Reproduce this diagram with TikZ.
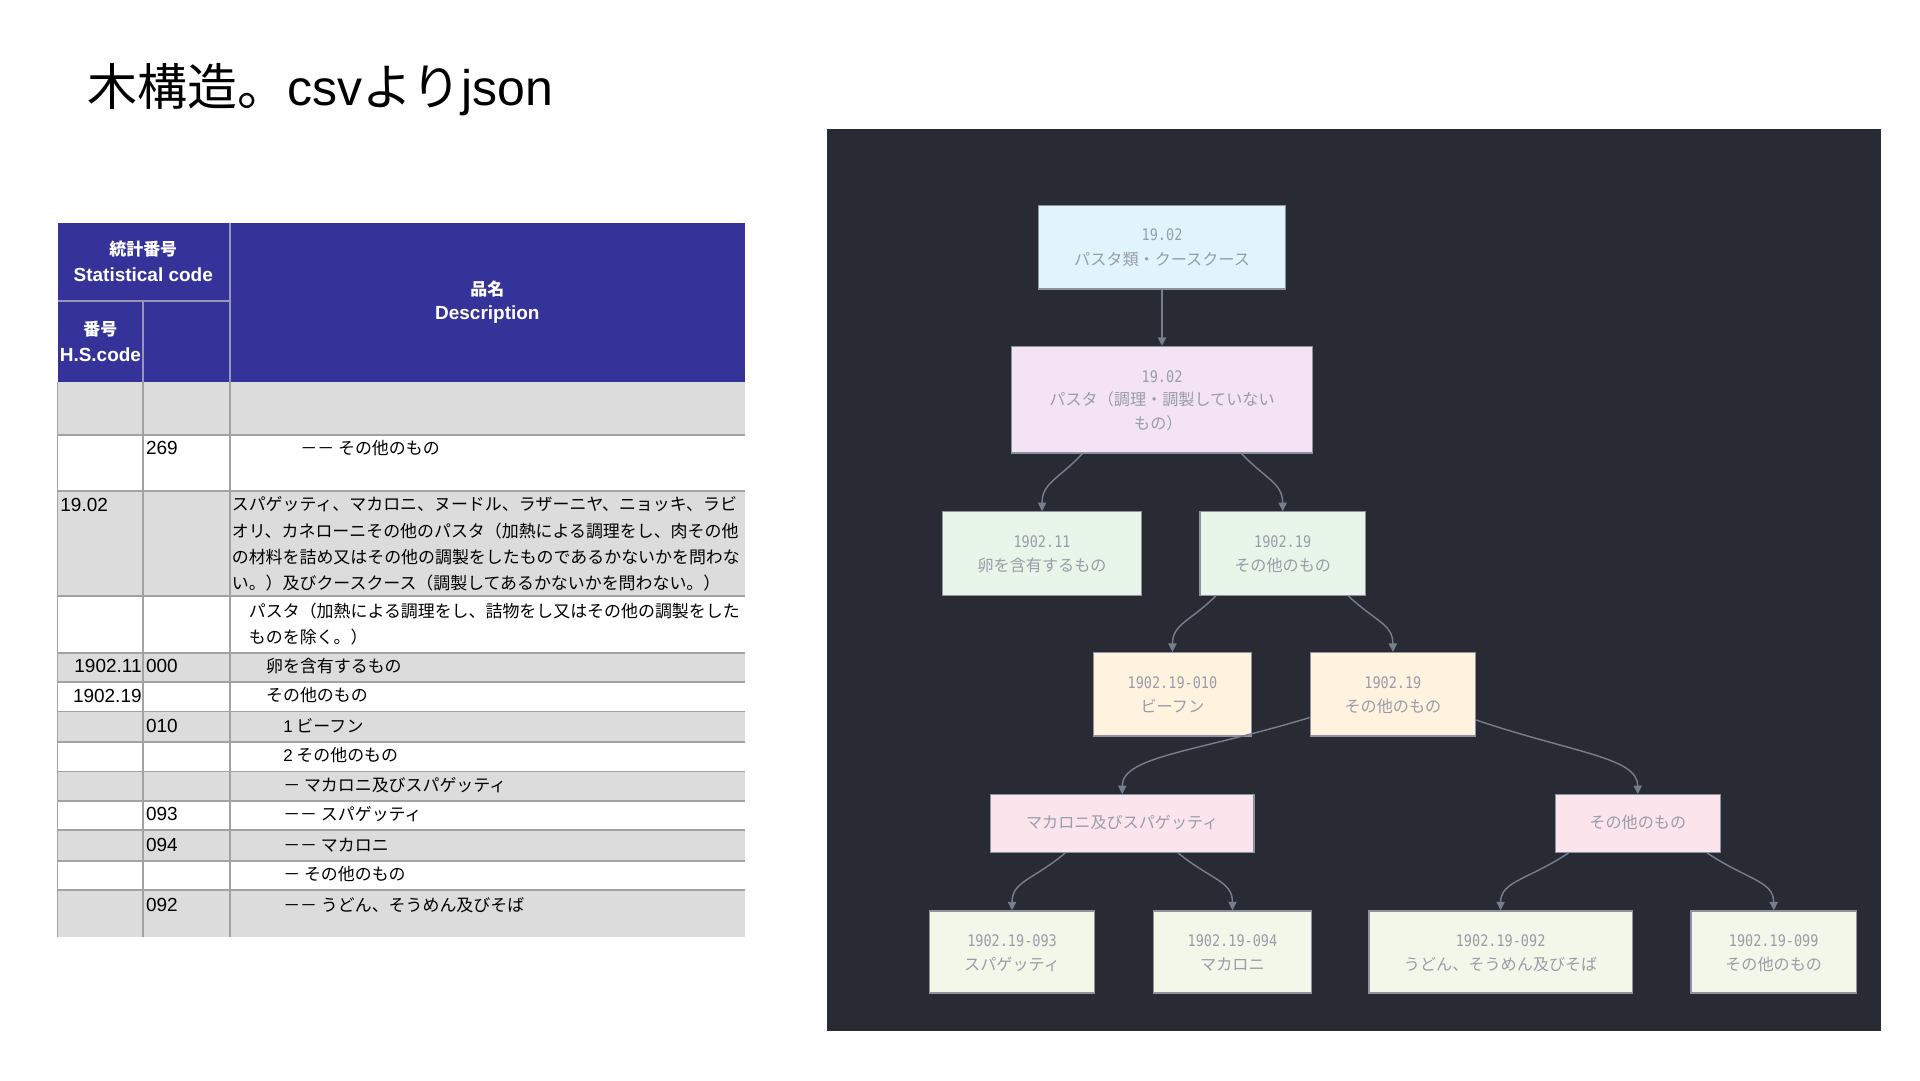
\documentclass[tikz,border=0pt]{standalone}
\usepackage{fontspec}
\usetikzlibrary{fit,arrows.meta,calc}
\newfontfamily\jp{Noto Sans CJK JP}
\newfontfamily\lib{Liberation Sans}
\newfontfamily\mono[FakeStretch=0.85]{DejaVu Sans Mono}
\definecolor{hdr}{RGB}{53,51,153}
\definecolor{tgray}{RGB}{220,220,220}
\definecolor{tline}{RGB}{162,162,162}
\definecolor{hline}{RGB}{150,150,185}
\definecolor{panel}{RGB}{40,43,52}
\definecolor{bordc}{RGB}{140,146,158}
\definecolor{edgec}{RGB}{118,126,142}
\definecolor{txtc}{RGB}{152,157,168}
\definecolor{fa}{RGB}{224,244,252}
\definecolor{fb}{RGB}{243,227,245}
\definecolor{fc}{RGB}{232,245,233}
\definecolor{fd}{RGB}{255,243,224}
\definecolor{fe}{RGB}{252,228,236}
\definecolor{ff}{RGB}{241,248,233}
\tikzset{
  tbox/.style={draw=bordc, line width=0.6pt, inner sep=0pt},
  lbl/.style={anchor=base, inner sep=0pt, text=txtc, font=\jp\fontsize{7.9}{12}\selectfont},
  lblm/.style={anchor=base, inner sep=0pt, text=txtc, font=\mono\fontsize{7.8}{12}\selectfont},
  conn/.style={draw=edgec, line width=0.7pt, -{Triangle[length=4.2pt,width=4pt]}},
  cell/.style={anchor=west, inner sep=0pt, font=\jp\fontsize{8.3}{12}\selectfont, text=black},
  celln/.style={cell, font=\lib\fontsize{9.3}{12}\selectfont},
  cellr/.style={celln, anchor=east},
  head/.style={inner sep=0pt, font=\jp\bfseries\fontsize{8.3}{12}\selectfont, text=white},
  headl/.style={head, font=\lib\bfseries\fontsize{9.3}{12}\selectfont},
  grid/.style={draw=tline, line width=0.9pt},
  hgrid/.style={draw=hline, line width=0.8pt}
}
\begin{document}
\begin{tikzpicture}[x=0.6pt,y=-0.6pt]
\useasboundingbox (0,0) rectangle (1568,882);
\fill[white] (0,0) rectangle (1568,882);

% title
\node[anchor=west, inner sep=0pt, font=\jp\fontsize{24.5}{28}\selectfont] (title) at (71,73) {木構造。{\lib csv}より{\lib json}};

% ---------------- table ----------------
\fill[hdr] (47,182) rectangle (608,312);
\foreach \a/\b in {312/355,401/487,533/557,581/606,630/654,678/703,727/765}
  \fill[tgray] (47,\a) rectangle (608,\b);
\draw[hgrid] (47,246) -- (188,246);
\draw[hgrid] (117,246) -- (117,312);
\draw[hgrid] (188,182) -- (188,312);
\foreach \y in {355,401,487,533,557,581,606,630,654,678,703,727}
  \draw[grid] (47,\y) -- (608,\y);
\foreach \x in {47,117,188}
  \draw[grid] (\x,312) -- (\x,765);

\node[head] (h1) at (117,203) {統計番号};
\node[headl] (h2) at (117,224) {Statistical code};
\node[head] (h3) at (82,269) {番号};
\node[headl] (h4) at (82,290) {H.S.code};
\node[head] (h5) at (398,236) {品名};
\node[headl] (h6) at (398,257) {Description};

\node[celln] (c269) at (119,366) {269};
\node[cell] (d269) at (245,366) {－－ その他のもの};
\node[celln] (c1902) at (49,412) {19.02};
\node[cell] (d3a) at (189,412) {スパゲッティ、マカロニ、ヌードル、ラザーニヤ、ニョッキ、ラビ};
\node[cell] (d3b) at (189,434) {オリ、カネローニその他のパスタ（加熱による調理をし、肉その他};
\node[cell] (d3c) at (189,455) {の材料を詰め又はその他の調製をしたものであるかないかを問わな};
\node[cell] (d3d) at (189,476) {い。）及びクースクース（調製してあるかないかを問わない。）};
\node[cell] (d4a) at (203,499) {パスタ（加熱による調理をし、詰物をし又はその他の調製をした};
\node[cell] (d4b) at (203,520) {ものを除く。）};
\node[cellr] (c5) at (116,544) {1902.11};
\node[celln] (c5b) at (119,544) {000};
\node[cell] (d5) at (217,544) {卵を含有するもの};
\node[cellr] (c6) at (116,568) {1902.19};
\node[cell] (d6) at (217,568) {その他のもの};
\node[celln] (c7) at (119,593) {010};
\node[cell] (d7) at (231,593) {{\lib 1} ビーフン};
\node[cell] (d8) at (231,617) {{\lib 2} その他のもの};
\node[cell] (d9) at (231,641) {－ マカロニ及びスパゲッティ};
\node[celln] (c10) at (119,665) {093};
\node[cell] (d10) at (231,665) {－－ スパゲッティ};
\node[celln] (c11) at (119,690) {094};
\node[cell] (d11) at (231,690) {－－ マカロニ};
\node[cell] (d12) at (231,714) {－ その他のもの};
\node[celln] (c13) at (119,739) {092};
\node[cell] (d13) at (231,739) {－－ うどん、そうめん及びそば};

% ---------------- tree panel ----------------
\fill[panel] (675,105) rectangle (1536,842);

\node[tbox, fill=fa, fit={(848,168) (1050,236)}] (n1) {};
\node[tbox, fill=fb, fit={(826,283) (1072,370)}] (n2) {};
\node[tbox, fill=fc, fit={(770,418) (932,486)}] (n3) {};
\node[tbox, fill=fc, fit={(980,418) (1115,486)}] (n4) {};
\node[tbox, fill=fd, fit={(893,533) (1022,601)}] (n5) {};
\node[tbox, fill=fd, fit={(1070,533) (1205,601)}] (n6) {};
\node[tbox, fill=fe, fit={(809,649) (1024,696)}] (n7) {};
\node[tbox, fill=fe, fit={(1270,649) (1405,696)}] (n8) {};
\node[tbox, fill=ff, fit={(759,744) (894,811)}] (n9) {};
\node[tbox, fill=ff, fit={(942,744) (1071,811)}] (n10) {};
\node[tbox, fill=ff, fit={(1118,744) (1333,811)}] (n11) {};
\node[tbox, fill=ff, fit={(1381,744) (1516,811)}] (n12) {};

\node[lblm] (n1a) at (949,196.5) {19.02};
\node[lbl]  (n1b) at (949,216.5) {パスタ類・クースクース};
\node[lblm] (n2a) at (949,312.5) {19.02};
\node[lbl]  (n2b) at (949,331.5) {パスタ（調理・調製していない};
\node[lbl]  (n2c) at (946,351) {もの）};
\node[lblm] (n3a) at (851,447) {1902.11};
\node[lbl]  (n3b) at (851,466.5) {卵を含有するもの};
\node[lblm] (n4a) at (1047.5,447) {1902.19};
\node[lbl]  (n4b) at (1047.5,466.5) {その他のもの};
\node[lblm] (n5a) at (957.5,562) {1902.19-010};
\node[lbl]  (n5b) at (957.5,581.5) {ビーフン};
\node[lblm] (n6a) at (1137.5,562) {1902.19};
\node[lbl]  (n6b) at (1137.5,581.5) {その他のもの};
\node[lbl]  (n7a) at (916.5,677) {マカロニ及びスパゲッティ};
\node[lbl]  (n8a) at (1337.5,677) {その他のもの};
\node[lblm] (n9a) at (826.5,773) {1902.19-093};
\node[lbl]  (n9b) at (826.5,792.5) {スパゲッティ};
\node[lblm] (n10a) at (1006.5,773) {1902.19-094};
\node[lbl]  (n10b) at (1006.5,792.5) {マカロニ};
\node[lblm] (n11a) at (1225.5,773) {1902.19-092};
\node[lbl]  (n11b) at (1225.5,792.5) {うどん、そうめん及びそば};
\node[lblm] (n12a) at (1448.5,773) {1902.19-099};
\node[lbl]  (n12b) at (1448.5,792.5) {その他のもの};

\draw[conn] (n1.south) -- (n2.north);
\draw[conn] ([shift={(-65,0)}]n2.south) .. controls +(-20,21) and +(0,-23) .. (n3.north);
\draw[conn] ([shift={(65,0)}]n2.south) .. controls +(20,21) and +(0,-23) .. (n4.north);
\draw[conn] ([shift={(-54.5,0)}]n4.south) .. controls +(-21,21) and +(0,-23) .. (n5.north);
\draw[conn] ([shift={(53.5,0)}]n4.south) .. controls +(22,21) and +(0,-23) .. (n6.north);
\draw[conn] ([shift={(0,19)}]n6.west) .. controls +(-92,28) and +(0,-31) .. (n7.north);
\draw[conn] ([shift={(0,21)}]n6.east) .. controls +(80,27) and +(0,-30) .. (n8.north);
\draw[conn] ([shift={(-46.5,0)}]n7.south) .. controls +(-26,22) and +(0,-24) .. (n9.north);
\draw[conn] ([shift={(45.5,0)}]n7.south) .. controls +(27,22) and +(0,-24) .. (n10.north);
\draw[conn] ([shift={(-56.5,0)}]n8.south) .. controls +(-33,22) and +(0,-24) .. (n11.north);
\draw[conn] ([shift={(56.5,0)}]n8.south) .. controls +(33,22) and +(0,-24) .. (n12.north);
\end{tikzpicture}
\end{document}
